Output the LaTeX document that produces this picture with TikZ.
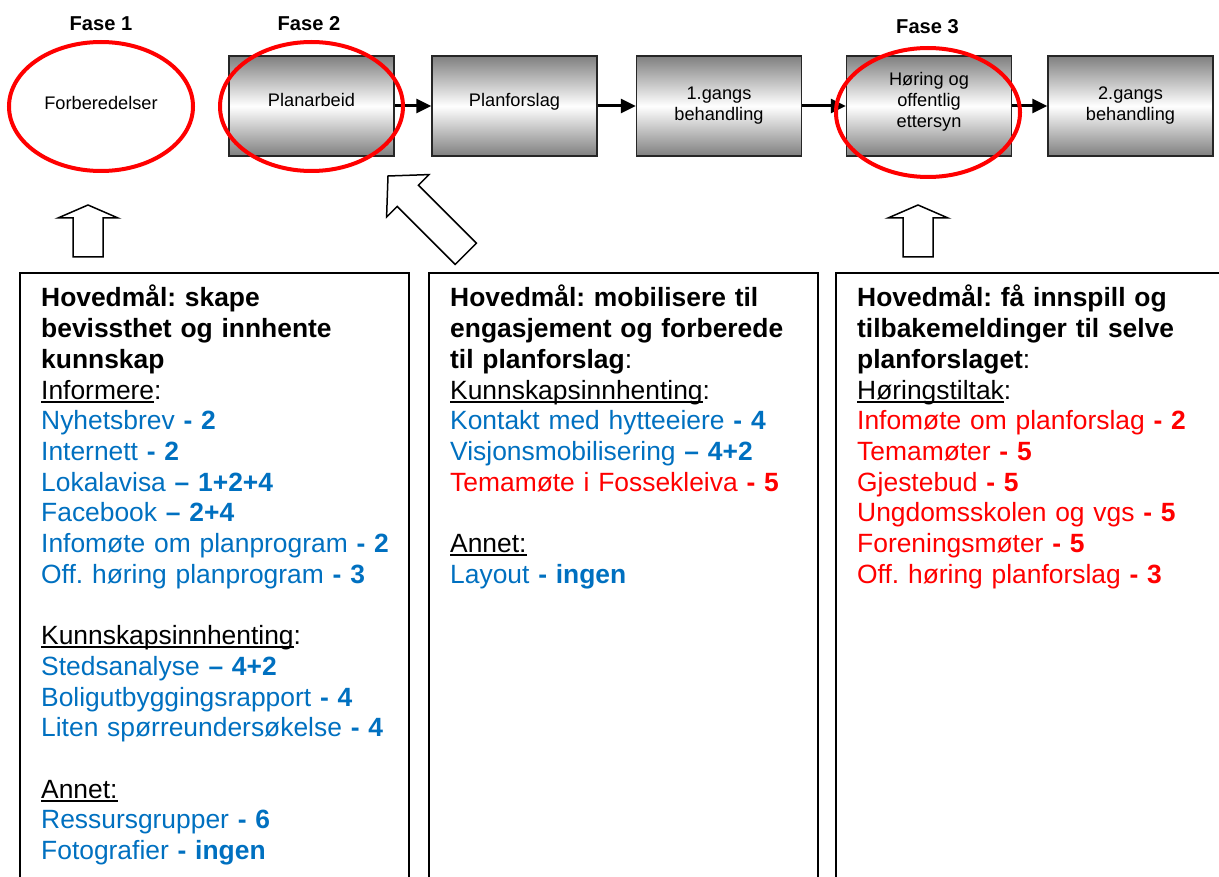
\documentclass[tikz,border=0pt]{standalone}
\usepackage{fontspec}
\setmainfont{Liberation Sans}
\usepackage{xcolor}
\usetikzlibrary{arrows.meta,positioning,shapes.geometric}

\definecolor{wordblue}{RGB}{0,112,192}
\definecolor{ringred}{RGB}{255,0,0}
\newcommand{\undl}[1]{\leavevmode\setbox0\hbox{#1}\rlap{\rule[-3.5pt]{\wd0}{1.8pt}}\box0}
\newcommand{\bl}[2]{\textcolor{wordblue}{#1 \textbf{#2}}}
\newcommand{\rd}[2]{\textcolor{ringred}{#1 \textbf{#2}}}
\frenchspacing

\tikzset{
  stage/.style={draw=black!85, line width=1.5pt, minimum width=165pt, minimum height=100pt,
    top color=black!50, bottom color=black!50, middle color=white,
    align=center, inner sep=0pt, font=\fontsize{18.2}{21}\selectfont},
  oneline/.style={text depth=12pt},
  ring/.style={ellipse, draw=ringred, line width=4pt, inner sep=0pt},
  fase/.style={font=\fontsize{20.1}{22}\selectfont\bfseries},
  link/.style={-{Triangle[length=15pt,width=14pt]}, line width=3pt},
  hollow/.style={draw=black, line width=1.5pt, fill=white, line join=miter},
  panel/.style={draw=black, line width=2pt},
  goal/.style={anchor=base west, text width=375pt, align=left, inner sep=0pt,
    font=\fontsize{26.4}{30.7}\selectfont}
}

\begin{document}
\begin{tikzpicture}[x=1pt, y=-1pt]
  \useasboundingbox (0,0) rectangle (1219,877);
  \clip (0,0) rectangle (1219,877);

  % Phase labels
  \node[fase] (fase1) at (101,24) {Fase 1};
  \node[fase] (fase2) at (309,24) {Fase 2};
  \node[fase] (fase3) at (927.5,27) {Fase 3};

  % Process chain
  \node[stage, oneline] (planarbeid) at (311.5,106) {Planarbeid};
  \node[stage, oneline] (planforslag) at (514.5,106) {Planforslag};
  \node[stage] (gangs1) at (719,106) {1.gangs\\behandling};
  \node[stage, oneline] (horing) at (929,106) {Høring og\\offentlig\\ettersyn};
  \node[stage] (gangs2) at (1130.5,106) {2.gangs\\behandling};

  \draw[link] (planarbeid) -- (planforslag);
  \draw[link] (planforslag) -- (gangs1);
  \draw[link] (gangs1) -- (horing);
  \draw[link] (horing) -- (gangs2);

  % Red rings marking the phases
  \node[ring, minimum width=184pt, minimum height=129pt, text depth=7pt,
    font=\fontsize{18.2}{21}\selectfont] (ring1) at (101,106.5) {Forberedelser};
  \node[ring, minimum width=183pt, minimum height=129pt] (ring2) at (311.5,106.5) {};
  \node[ring, minimum width=184pt, minimum height=129pt] (ring3) at (928,112.5) {};

  % Block arrows
  \draw[hollow, shift={(88,205)}] (0,0) -- (30,13) -- (15,13) -- (15,52) -- (-15,52) -- (-15,13) -- (-30,13) -- cycle;
  \draw[hollow, shift={(918,205)}] (0,0) -- (30,13) -- (15,13) -- (15,52) -- (-15,52) -- (-15,13) -- (-30,13) -- cycle;
  \draw[hollow, shift={(388,176)}, rotate=45] (0,0) -- (30,28) -- (15,28) -- (15,110) -- (-15,110) -- (-15,28) -- (-30,28) -- cycle;

  % Goal panels
  \draw[panel] (20,273) rectangle (409,895);
  \draw[panel] (429,273) rectangle (818,895);
  \draw[panel] (836,273) rectangle (1240,895);

  \node[goal] (goal1) at (41,307) {%
    \textbf{Hovedmål: skape\\bevissthet og innhente\\kunnskap}\\
    \undl{Informere}:\\
    \bl{Nyhetsbrev}{- 2}\\
    \bl{Internett}{- 2}\\
    \bl{Lokalavisa}{– 1+2+4}\\
    \bl{Facebook}{– 2+4}\\
    \bl{Infomøte om planprogram}{- 2}\\
    \bl{Off. høring planprogram}{- 3}\\
    \mbox{}\\
    \undl{Kunnskapsinnhenting}:\\
    \bl{Stedsanalyse}{– 4+2}\\
    \bl{Boligutbyggingsrapport}{- 4}\\
    \bl{Liten spørreundersøkelse}{- 4}\\
    \mbox{}\\
    \undl{Annet:}\\
    \bl{Ressursgrupper}{- 6}\\
    \bl{Fotografier}{- ingen}};

  \node[goal] (goal2) at (450,307) {%
    \textbf{Hovedmål: mobilisere til\\engasjement og forberede\\til planforslag}:\\
    \undl{Kunnskapsinnhenting}:\\
    \bl{Kontakt med hytteeiere}{- 4}\\
    \bl{Visjonsmobilisering}{– 4+2}\\
    \rd{Temamøte i Fossekleiva}{- 5}\\
    \mbox{}\\
    \undl{Annet:}\\
    \bl{Layout}{- ingen}};

  \node[goal] (goal3) at (857,307) {%
    \textbf{Hovedmål: få innspill og\\tilbakemeldinger til selve\\planforslaget}:\\
    \undl{Høringstiltak}:\\
    \rd{Infomøte om planforslag}{- 2}\\
    \rd{Temamøter}{- 5}\\
    \rd{Gjestebud}{- 5}\\
    \rd{Ungdomsskolen og vgs}{- 5}\\
    \rd{Foreningsmøter}{- 5}\\
    \rd{Off. høring planforslag}{- 3}};
\end{tikzpicture}
\end{document}
